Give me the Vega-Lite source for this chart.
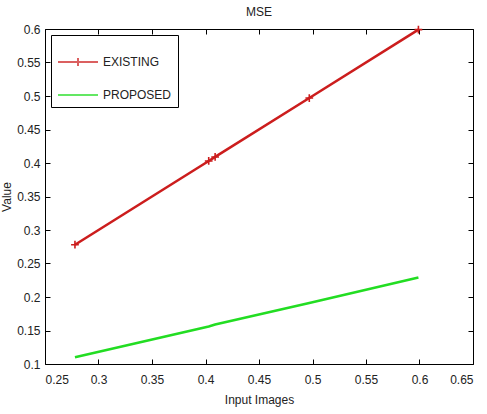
{
  "$schema": "https://vega.github.io/schema/vega-lite/v6.json",
  "width": 428,
  "height": 335,
  "autosize": {"type": "none"},
  "padding": {"left": 45, "top": 29, "right": 14, "bottom": 50},
  "background": "white",
  "config": {
    "view": {"stroke": "black", "strokeWidth": 1, "fill": "transparent"},
    "font": "Liberation Sans",
    "axis": {
      "grid": false,
      "ticks": true,
      "tickSize": -5,
      "tickColor": "black",
      "tickWidth": 1,
      "domain": false,
      "zindex": 1,
      "labelColor": "#222",
      "titleColor": "#222",
      "labelFont": "Liberation Sans",
      "titleFont": "Liberation Sans",
      "labelFontSize": 12,
      "titleFontSize": 12,
      "titleFontWeight": "normal"
    }
  },
  "title": {"text": "MSE", "fontSize": 12, "fontWeight": "normal", "font": "Liberation Sans", "color": "#222", "offset": 4},
  "datasets": {
    "d": [
      {"x": 0.278, "y": 0.278, "series": "EXISTING"},
      {"x": 0.403, "y": 0.403, "series": "EXISTING"},
      {"x": 0.409, "y": 0.409, "series": "EXISTING"},
      {"x": 0.497, "y": 0.497, "series": "EXISTING"},
      {"x": 0.599, "y": 0.599, "series": "EXISTING"},
      {"x": 0.278, "y": 0.110, "series": "PROPOSED"},
      {"x": 0.403, "y": 0.156, "series": "PROPOSED"},
      {"x": 0.409, "y": 0.159, "series": "PROPOSED"},
      {"x": 0.497, "y": 0.191, "series": "PROPOSED"},
      {"x": 0.599, "y": 0.229, "series": "PROPOSED"}
    ]
  },
  "data": {"name": "d"},
  "layer": [
    {
      "mark": {"type": "line", "strokeWidth": 2.6},
      "encoding": {
        "x": {"field": "x", "type": "quantitative", "scale": {"domain": [0.25, 0.65], "nice": false, "zero": false},
              "axis": {"orient": "bottom", "title": "Input Images", "values": [0.25, 0.3, 0.35, 0.4, 0.45, 0.5, 0.55, 0.6, 0.65], "format": "~g", "labelPadding": 15, "titlePadding": 9}},
        "y": {"field": "y", "type": "quantitative", "scale": {"domain": [0.1, 0.6], "nice": false, "zero": false},
              "axis": {"orient": "left", "title": "Value", "values": [0.1, 0.15, 0.2, 0.25, 0.3, 0.35, 0.4, 0.45, 0.5, 0.55, 0.6], "format": "~g", "labelPadding": 10, "titlePadding": 3}},
        "color": {"field": "series", "type": "nominal", "scale": {"domain": ["EXISTING", "PROPOSED"], "range": ["#cc1d1d", "#22dd22"]},
                  "legend": {"orient": "top-left", "offset": 6, "title": null, "strokeColor": "black", "fillColor": "white", "padding": 6, "labelFontSize": 12, "labelColor": "#222", "labelFont": "Liberation Sans", "symbolSize": 1600, "symbolStrokeWidth": 2, "symbolOpacity": 1, "rowPadding": 4, "cornerRadius": 0}}
      }
    },
    {
      "mark": {"type": "point", "filled": false, "size": 0},
      "encoding": {
        "x": {"field": "x", "type": "quantitative", "axis": null},
        "y": {"field": "y", "type": "quantitative", "axis": null},
        "color": {"field": "series", "type": "nominal"},
        "shape": {"field": "series", "type": "nominal", "scale": {"domain": ["EXISTING", "PROPOSED"], "range": ["M-1,0H1M0,-0.2V0.2", "M-1,0H1"]}}
      }
    },
    {
      "transform": [{"filter": "datum.series === 'EXISTING'"}],
      "mark": {"type": "point", "shape": "M-1,0H1M0,-1V1", "filled": false, "size": 60, "strokeWidth": 1.6, "color": "#cc1d1d", "opacity": 1},
      "encoding": {
        "x": {"field": "x", "type": "quantitative", "axis": null},
        "y": {"field": "y", "type": "quantitative", "axis": null}
      }
    },
    {
      "mark": {"type": "point", "opacity": 0},
      "encoding": {
        "x": {"field": "x", "type": "quantitative", "axis": {"orient": "top", "labels": false, "title": null, "values": [0.25, 0.3, 0.35, 0.4, 0.45, 0.5, 0.55, 0.6, 0.65]}},
        "y": {"field": "y", "type": "quantitative", "axis": {"orient": "right", "labels": false, "title": null, "values": [0.1, 0.15, 0.2, 0.25, 0.3, 0.35, 0.4, 0.45, 0.5, 0.55, 0.6]}}
      }
    }
  ],
  "resolve": {"axis": {"x": "independent", "y": "independent"}}
}
